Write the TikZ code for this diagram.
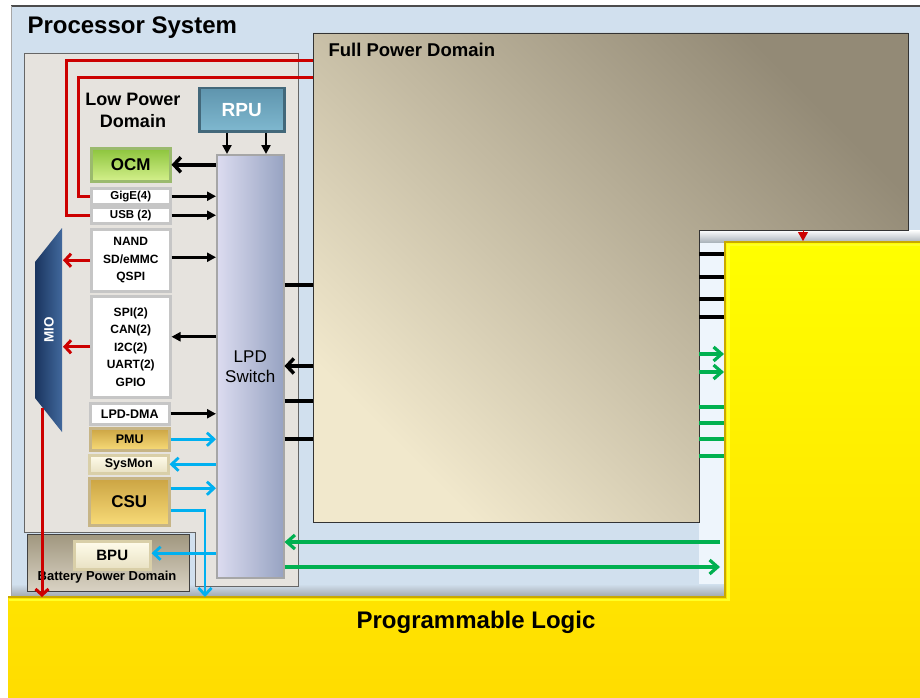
\documentclass[tikz,border=0pt]{standalone}
\usepackage{fontspec}
\setmainfont{Liberation Sans}
\usetikzlibrary{arrows.meta,calc}
\definecolor{psblue}{HTML}{D1E0EE}
\definecolor{psblueL}{HTML}{EEF5FC}
\definecolor{lpdfill}{HTML}{E6E3DE}
\definecolor{fpdL}{HTML}{F1E8CC}
\definecolor{fpdM}{HTML}{D4CAAE}
\definecolor{fpdD}{HTML}{938A76}
\definecolor{plY}{HTML}{FFFF00}
\definecolor{plY2}{HTML}{FFDC00}
\definecolor{plEdge}{HTML}{C9A800}
\definecolor{redl}{HTML}{CC0000}
\definecolor{cyanl}{HTML}{00B0F0}
\definecolor{greenl}{HTML}{00B050}
\definecolor{rpuT}{HTML}{5F95AE}
\definecolor{rpuB}{HTML}{7FB8CF}
\definecolor{ocmL}{HTML}{D4F08C}
\definecolor{ocmD}{HTML}{8CC43C}
\definecolor{goldL}{HTML}{F8DB78}
\definecolor{goldD}{HTML}{CBA443}
\definecolor{creamL}{HTML}{FFFCEB}
\definecolor{creamD}{HTML}{D9CFA8}
\definecolor{swL}{HTML}{DCDCF0}
\definecolor{swD}{HTML}{97A3C2}
\definecolor{mioD}{HTML}{1A355F}
\definecolor{mioL}{HTML}{41689C}
\definecolor{batL}{HTML}{D9D3C4}
\definecolor{batD}{HTML}{A0977F}
\tikzset{
  box/.style={inner sep=0pt, anchor=north west, align=center, line width=2.5pt},
  wbox/.style={box, draw=gray!45, fill=white, font=\fontsize{12}{17.5}\selectfont\bfseries},
  goldbox/.style={box, draw=goldD!80!black!60, top color=goldD, bottom color=goldL, font=\fontsize{12.5}{14}\selectfont\bfseries},
  creambox/.style={box, draw=creamD, top color=creamL, bottom color=creamD!60!creamL, font=\fontsize{12.5}{14}\selectfont\bfseries},
  blkT/.style={line width=2.6pt, -{Triangle[length=9pt,width=9pt]}},
  blkB/.style={line width=3.5pt, -{Straight Barb[length=7pt,width=15pt]}},
  blkL/.style={line width=3.2pt},
  redA/.style={draw=redl, line width=3pt, -{Straight Barb[length=6pt,width=13pt]}},
  redL/.style={draw=redl, line width=3pt},
  cyA/.style={draw=cyanl, line width=2.8pt, -{Straight Barb[length=7pt,width=13pt]}},
  grA/.style={draw=greenl, line width=3.2pt, -{Straight Barb[length=8pt,width=14pt]}},
  grL/.style={draw=greenl, line width=3.2pt},
}
\begin{document}
\begin{tikzpicture}[x=1pt,y=-1pt]
\useasboundingbox (0,0) rectangle (920,698);
\fill[white] (0,0) rectangle (920,698);
% Processor System region
\shade[top color=psblue, middle color=psblueL, bottom color=psblue] (11,6) rectangle (920,596);
\fill[psblueL] (699,230) rectangle (725,590);
\shade[top color=psblue, bottom color=gray!55!psblue] (11,584) rectangle (725,596);
\shade[top color=white, bottom color=gray!45!psblue] (699,230) rectangle (920,242);
\draw[gray!60!black, line width=2pt] (11,6) -- (920,6);
\draw[gray!70, line width=1pt] (11,6) -- (11,596);
\node[anchor=west, font=\fontsize{24}{26}\selectfont\bfseries] (pstitle) at (24,28) {Processor System};
% Low power domain box
\draw[gray!80!black, line width=0.8pt, fill=lpdfill] (24,53) -- (298,53) -- (298,586) -- (195,586) -- (195,532) -- (24,532) -- cycle;
\node[font=\fontsize{18}{22}\selectfont\bfseries, align=center] (lpdt) at (133,110) {Low Power\\Domain};
% boxes
\node[wbox, minimum width=79pt, minimum height=16pt, font=\fontsize{11.5}{13}\selectfont\bfseries] (gige) at (90,187) {GigE(4)};
\node[wbox, minimum width=79pt, minimum height=16pt, font=\fontsize{11.5}{13}\selectfont\bfseries] (usb) at (90,206) {USB (2)};
% red lines to FPD
\coordinate (fin1) at (313,61);
\coordinate (fin2) at (313,78);
\draw[redL] (usb.west) -- ++(-24,0) |- (fin1);
\draw[redL] (gige.west) -- ++(-12,0) |- (fin2);
% Full Power Domain
\shade[draw=gray!40!black, line width=0.8pt, bottom color=fpdL, middle color=fpdM, top color=fpdD, shading angle=-45]
  (313,33) -- (908,33) -- (908,230) -- (699,230) -- (699,522) -- (313,522) -- cycle;
\node[anchor=west, font=\fontsize{18.5}{20}\selectfont\bfseries] (fpdt) at (325,50) {Full Power Domain};
% Programmable Logic
\shade[top color=plY, bottom color=plY2] (8,596) -- (725,596) -- (725,242) -- (920,242) -- (920,698) -- (8,698) -- cycle;
\draw[plEdge, line width=2pt] (8,597) -- (725,597) -- (725,242) -- (920,242);
\draw[plY!85!white, line width=2.5pt] (9,600) -- (728.5,600) -- (728.5,245) -- (920,245);
\node[font=\fontsize{24}{26}\selectfont\bfseries] (plt) at (476,622) {Programmable Logic};
% RPU and switch
\node[box, draw=rpuT!70!black, top color=rpuT, bottom color=rpuB, minimum width=85pt, minimum height=43pt, text=white, font=\fontsize{19}{20}\selectfont\bfseries] (rpu) at (198,87) {RPU};
\node[box, draw=gray!70, line width=1.5pt, left color=swL, right color=swD, minimum width=67pt, minimum height=423pt, font=\fontsize{17}{20}\selectfont] (sw) at (216,154) {LPD\\Switch};
\node[box, draw=ocmD!80!black!70, top color=ocmD, bottom color=ocmL, minimum width=79pt, minimum height=33pt, font=\fontsize{17}{18}\selectfont\bfseries] (ocm) at (90,147) {OCM};
\node[wbox, minimum width=79pt, minimum height=62pt] (nand) at (90,228) {NAND\\SD/eMMC\\QSPI};
\node[wbox, minimum width=79pt, minimum height=101pt] (spi) at (90,295) {SPI(2)\\CAN(2)\\I2C(2)\\UART(2)\\GPIO};
\node[wbox, minimum width=79pt, minimum height=21pt, font=\fontsize{12.5}{14}\selectfont\bfseries] (dma) at (89,402) {LPD-DMA};
\node[goldbox, minimum width=79pt, minimum height=22pt] (pmu) at (89,427) {PMU};
\node[creambox, minimum width=79pt, minimum height=18pt] (sysmon) at (88,454) {SysMon};
\node[goldbox, minimum width=80pt, minimum height=47pt, font=\fontsize{17}{18}\selectfont\bfseries] (csu) at (88,477) {CSU};
% Battery power domain
\node[box, draw=gray!50!black, line width=0.8pt, top color=batD, bottom color=batL, minimum width=162pt, minimum height=57pt] (bat) at (27,534) {};
\node[creambox, minimum width=76pt, minimum height=28pt, font=\fontsize{15}{16}\selectfont\bfseries] (bpu) at (73,540) {BPU};
\node[font=\fontsize{13}{14}\selectfont\bfseries] (batt) at (107,577) {Battery Power Domain};
% MIO
\shade[left color=mioD, right color=mioL] (62,228) -- (62,432) -- (35,398) -- (35,262) -- cycle;
\node[rotate=90, text=white, font=\fontsize{13.5}{15}\selectfont\bfseries] (mio) at (49,330) {MIO};
\coordinate (mioR) at (63,330);
\coordinate (miob) at (42,408);
\coordinate (plred) at (42,597);
% connectors in low power domain
\draw[blkT] ([xshift=29pt]rpu.south west) -- ([xshift=11pt]sw.north west);
\draw[blkT] ([xshift=68pt]rpu.south west) -- ([xshift=50pt]sw.north west);
\draw[blkB] (sw.west |- ocm.east) -- (ocm.east);
\draw[blkT] (gige.east) -- (gige.east -| sw.west);
\draw[blkT] (usb.east) -- (usb.east -| sw.west);
\draw[blkT] ([yshift=3pt]nand.east) -- ([yshift=3pt]nand.east -| sw.west);
\draw[blkT] ([yshift=10pt]spi.east -| sw.west) -- ([yshift=10pt]spi.east);
\draw[blkT] (dma.east) -- (dma.east -| sw.west);
\draw[cyA] (pmu.east) -- (pmu.east -| sw.west);
\draw[cyA] (sw.west |- sysmon.east) -- (sysmon.east);
\draw[cyA] ([yshift=13.5pt]csu.east) -- ([yshift=13.5pt]csu.east -| sw.west);
\coordinate (plcsu) at (205,597);
\draw[cyA] ([yshift=-8.5pt]csu.east) -| (plcsu);
\draw[cyA] ([yshift=2pt]bpu.east -| sw.west) -- ([yshift=2pt]bpu.east);
\draw[redA] (nand.west) -- (nand.west -| mioR);
\draw[redA] (spi.west) -- (spi.west -| mioR);
\draw[redA] (miob) -- (plred);
% switch to full power domain
\coordinate (f1) at (313,285);
\coordinate (f2) at (313,366);
\coordinate (f3) at (313,401);
\coordinate (f4) at (313,439);
\draw[blkL] (sw.east |- f1) -- (f1);
\draw[blkB] (f2) -- (f2 -| sw.east);
\draw[blkL] (sw.east |- f3) -- (f3);
\draw[blkL] (sw.east |- f4) -- (f4);
% switch to PL
\coordinate (g1) at (720,542);
\coordinate (g2) at (720,567);
\draw[grA] (g1) -- (g1 -| sw.east);
\draw[grA] (sw.east |- g2) -- (g2);
% FPD to PL
\coordinate (pa) at (699,254); \coordinate (pb) at (699,277); \coordinate (pc) at (699,299); \coordinate (pd) at (699,317);
\coordinate (pe) at (699,354); \coordinate (pf) at (699,372);
\coordinate (pg) at (699,407); \coordinate (ph) at (699,423); \coordinate (pi) at (699,439); \coordinate (pj) at (699,456);
\coordinate (plx) at (724,300);
\foreach \c in {pa,pb,pc,pd} \draw[blkL] (\c) -- (\c -| plx);
\foreach \c in {pe,pf} \draw[grA] (\c) -- (\c -| plx);
\foreach \c in {pg,ph,pi,pj} \draw[grL] (\c) -- (\c -| plx);
\coordinate (fpdn) at (803,230);
\coordinate (pltop) at (803,241);
\draw[draw=redl, line width=1pt, -{Triangle[length=9pt,width=10pt]}] (fpdn) -- (pltop);
\end{tikzpicture}
\end{document}
